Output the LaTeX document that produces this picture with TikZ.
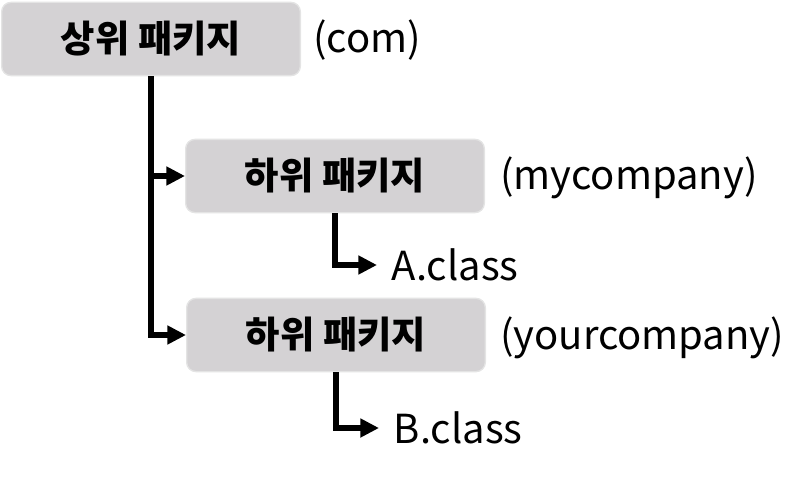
\documentclass[tikz,border=0pt]{standalone}
\usepackage{fontspec}
\setmainfont{Noto Sans CJK KR}
\usetikzlibrary{arrows.meta,positioning}
\definecolor{boxfill}{HTML}{D4D2D4}
\definecolor{boxedge}{HTML}{E4E4E4}
\tikzset{
  pkgbox/.style={draw=boxedge, fill=boxfill, rounded corners=7pt, line width=1pt,
    minimum width=224pt, minimum height=55pt, font=\fontsize{28}{32}\selectfont\bfseries},
  pkgname/.style={anchor=west, inner sep=0pt, font=\fontsize{30}{34}\selectfont},
  clsname/.style={anchor=west, inner xsep=11pt, inner ysep=0pt, font=\fontsize{30}{34}\selectfont},
  arr/.style={-{Triangle[length=14pt, width=13.5pt]}, line width=4.5pt, line join=miter}
}

\begin{document}
\begin{tikzpicture}[x=0.75pt,y=-0.75pt]
  \useasboundingbox (0,0) rectangle (806,478);
  % packages
  \node[pkgbox] (top) at (151,39) {상위 패키지};
  \node[pkgbox] (sub1) at (335,176) {하위 패키지};
  \node[pkgbox] (sub2) at (336,335) {하위 패키지};
  \node[pkgname] (topname) at (313,40) {(com)};
  \node[pkgname] (sub1name) at (500,178) {(mycompany)};
  \node[pkgname] (sub2name) at (500,338) {(yourcompany)};
  % classes
  \node[clsname] (clsA) at (377,265) {A.class};
  \node[clsname] (clsB) at (379,428) {B.class};
  \draw[arr] (top.south) |- (sub1.west);
  \draw[arr] (top.south) |- (sub2.west);
  \draw[arr] (sub1.south) |- (clsA.west);
  \draw[arr] (sub2.south) |- (clsB.west);
\end{tikzpicture}
\end{document}
